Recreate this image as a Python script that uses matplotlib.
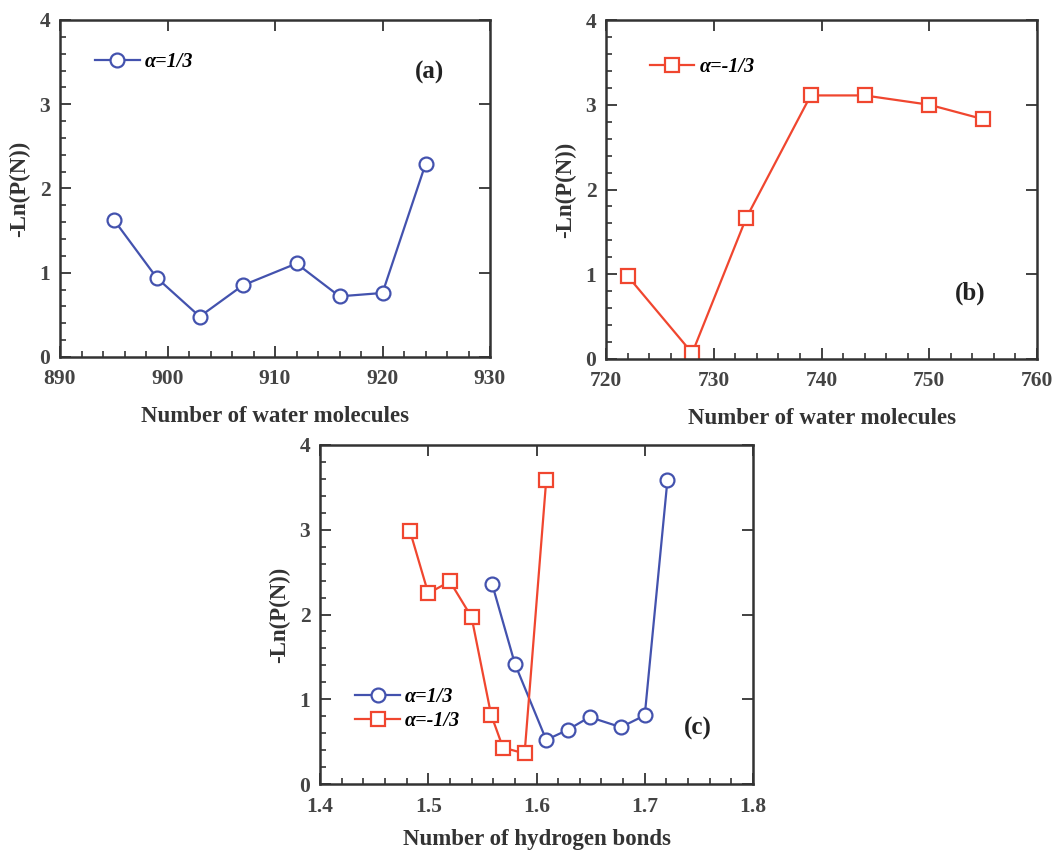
import matplotlib
matplotlib.use("Agg")
import matplotlib.pyplot as plt
from matplotlib.ticker import MultipleLocator

plt.rcParams['font.family'] = ['Liberation Serif', 'DejaVu Serif']

# ---- data ----
a_x = [895, 899, 903, 907, 912, 916, 920, 924]
a_y = [1.63, 0.94, 0.48, 0.85, 1.11, 0.72, 0.76, 2.29]

b_x = [722, 728, 733, 739, 744, 750, 755]
b_y = [0.98, 0.07, 1.66, 3.11, 3.11, 3.00, 2.83]

c_blue_x = [1.559, 1.580, 1.609, 1.629, 1.649, 1.678, 1.700, 1.721]
c_blue_y = [2.36, 1.42, 0.52, 0.64, 0.79, 0.67, 0.81, 3.59]

c_red_x = [1.483, 1.500, 1.520, 1.540, 1.558, 1.569, 1.589, 1.609]
c_red_y = [2.99, 2.25, 2.39, 1.97, 0.82, 0.43, 0.36, 3.59]

label_pos = "α=1/3"
label_neg = "α=-1/3"
ylabel = "-Ln(P(N))"
xlabel_water = "Number of water molecules"
xlabel_hb = "Number of hydrogen bonds"

BLUE = '#4352AE'
RED = '#F0462F'
TXT = '#333333'

fig = plt.figure(figsize=(10.53, 8.5), dpi=100)
W, H = 1053, 850

def ax_at(x0, y0, x1, y1):
    return fig.add_axes([x0 / W, 1 - y1 / H, (x1 - x0) / W, (y1 - y0) / H])

def style(ax, xlim, xmaj, xmin):
    ax.set_xlim(*xlim)
    ax.set_ylim(0, 4)
    ax.xaxis.set_major_locator(MultipleLocator(xmaj))
    ax.xaxis.set_minor_locator(MultipleLocator(xmin))
    ax.yaxis.set_major_locator(MultipleLocator(1))
    ax.yaxis.set_minor_locator(MultipleLocator(0.2))
    ax.tick_params(which='both', direction='in', colors=TXT,
                   top=True, right=True, labelsize=15.5)
    ax.tick_params(axis='x', pad=9)
    ax.tick_params(axis='y', pad=7)
    ax.tick_params(which='major', length=8, width=1.3)
    ax.tick_params(which='minor', length=4.5, width=1.2, top=False, right=False)
    for lab in ax.get_xticklabels() + ax.get_yticklabels():
        lab.set_fontweight('bold')
        lab.set_color('#444444')
    for s in ax.spines.values():
        s.set_linewidth(1.8)
        s.set_color(TXT)
    ax.set_ylabel(ylabel, fontsize=16.5, fontweight='bold', color=TXT, labelpad=7)

line_kw = dict(lw=1.6, ms=10, mew=1.6, mfc='white')
leg_prop = dict(family='Liberation Serif', weight='bold', style='italic', size=14.5)

# (a)
axa = ax_at(60, 20, 490, 357)
axa.plot(a_x, a_y, '-o', color=BLUE, label=label_pos, **line_kw)
style(axa, (890, 930), 10, 2)
axa.set_xlabel(xlabel_water, fontsize=16.5, fontweight='bold', color=TXT, labelpad=12)
axa.legend(loc='upper left', bbox_to_anchor=(0.04, 0.96), frameon=False,
           prop=leg_prop, handlelength=2.2, handletextpad=0.25)
axa.text(0.86, 0.843, "(a)", transform=axa.transAxes, fontsize=18, fontweight='bold',
         color='#222222', ha='center', va='center')

# (b)
axb = ax_at(606, 20, 1037, 359)
axb.plot(b_x, b_y, '-s', color=RED, label=label_neg, **line_kw)
style(axb, (720, 760), 10, 2)
axb.set_xlabel(xlabel_water, fontsize=16.5, fontweight='bold', color=TXT, labelpad=12)
axb.legend(loc='upper left', bbox_to_anchor=(0.06, 0.945), frameon=False,
           prop=leg_prop, handlelength=2.2, handletextpad=0.25)
axb.text(0.845, 0.195, "(b)", transform=axb.transAxes, fontsize=18, fontweight='bold',
         color='#222222', ha='center', va='center')

# (c)
axc = ax_at(320, 445, 753, 784)
axc.plot(c_blue_x, c_blue_y, '-o', color=BLUE, label=label_pos, **line_kw)
axc.plot(c_red_x, c_red_y, '-s', color=RED, label=label_neg, **line_kw)
style(axc, (1.4, 1.8), 0.1, 0.02)
axc.set_xlabel(xlabel_hb, fontsize=16.5, fontweight='bold', color=TXT, labelpad=9)
axc.legend(loc='upper left', bbox_to_anchor=(0.04, 0.34), frameon=False,
           prop=leg_prop, handlelength=2.2, handletextpad=0.25, labelspacing=0.2)
axc.text(0.873, 0.165, "(c)", transform=axc.transAxes, fontsize=18, fontweight='bold',
         color='#222222', ha='center', va='center')

fig.savefig("out.png", dpi=100)
